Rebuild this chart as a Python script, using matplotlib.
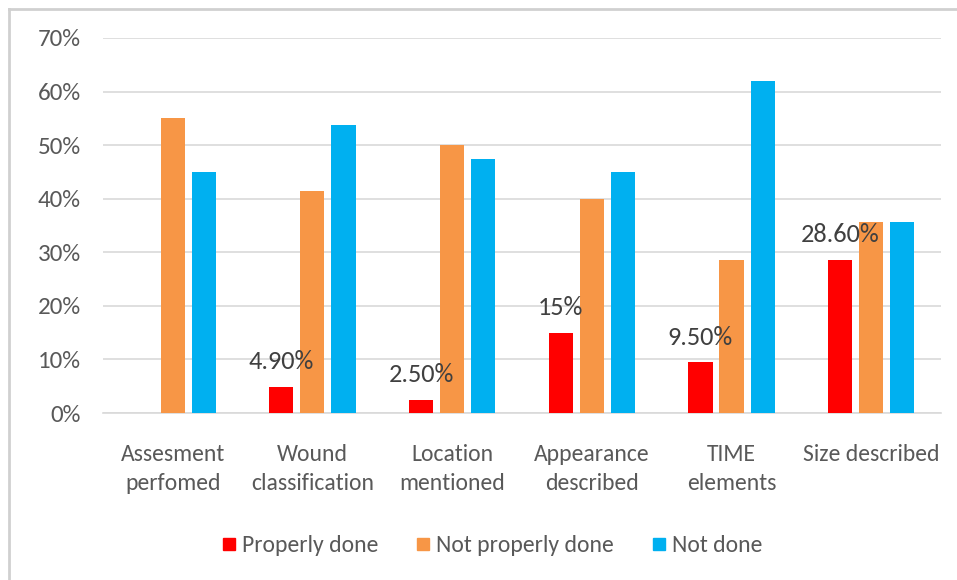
import numpy as np
import matplotlib
matplotlib.use('Agg')
import matplotlib.pyplot as plt
from matplotlib import font_manager
from matplotlib.lines import Line2D

categories = ['Assesment\nperfomed', 'Wound\nclassification', 'Location\nmentioned',
              'Appearance\ndescribed', 'TIME\nelements', 'Size described']
series_names = ['Properly done', 'Not properly done', 'Not done']
properly_done = [0.0, 4.9, 2.5, 15.0, 9.5, 28.6]
not_properly_done = [55.0, 41.4, 50.0, 40.0, 28.5, 35.7]
not_done = [45.0, 53.7, 47.5, 45.0, 61.9, 35.7]
label_texts = ['', '4.90%', '2.50%', '15%', '9.50%', '28.60%']
yticks = [0, 10, 20, 30, 40, 50, 60, 70]

colors = ['#FF0000', '#F79646', '#00B0F0']

# pick a narrow font close to Calibri
available = set(f.name for f in font_manager.fontManager.ttflist)
family = 'DejaVu Sans'
for name in ['Carlito', 'Liberation Sans Narrow', 'Liberation Sans']:
    if name in available:
        family = name
        break
plt.rcParams['font.family'] = [family, 'DejaVu Sans']

fig = plt.figure(figsize=(9.57, 5.80), dpi=100)
ax = fig.add_axes([0.1076, 0.2879, 0.8757, 0.6466])

x = np.arange(len(categories))
width = 0.172
offset = 0.222
all_series = [properly_done, not_properly_done, not_done]
bars = []
for i, vals in enumerate(all_series):
    b = ax.bar(x + (i - 1) * offset, vals, width, color=colors[i], label=series_names[i], zorder=3)
    bars.append(b)

# data labels on the red bars only
for rect, txt in zip(bars[0], label_texts):
    if txt:
        ax.annotate(txt, (rect.get_x() + rect.get_width() / 2, rect.get_height()),
                    xytext=(0, 18), textcoords='offset points', ha='center', va='center',
                    fontsize=19, color='#404040', zorder=4)

ax.set_xlim(-0.5, len(categories) - 0.5)
ax.set_ylim(0, 70)
ax.set_yticks(yticks)
ax.set_yticklabels(['%d%%' % v for v in yticks])
ax.set_xticks(x)
ax.set_xticklabels(categories, linespacing=1.5)
ax.tick_params(axis='y', length=0, pad=16, labelsize=18, labelcolor='#595959')
ax.tick_params(axis='x', length=0, pad=22, labelsize=17, labelcolor='#595959')
ax.grid(axis='y', color='#D9D9D9', linewidth=1.2, zorder=0)
for s in ['top', 'right', 'left']:
    ax.spines[s].set_visible(False)
ax.spines['bottom'].set_color('#D9D9D9')
ax.spines['bottom'].set_linewidth(1.2)

handles = [Line2D([0], [0], marker='s', linestyle='none', markersize=8,
                  markerfacecolor=c, markeredgecolor=c) for c in colors]
fig.legend(handles, series_names, loc='center', bbox_to_anchor=(491 / 957, 1 - 546 / 580),
           ncol=3, frameon=False, fontsize=17, labelcolor='#595959',
           handletextpad=0.15, columnspacing=1.5, handlelength=0.8)

# outer chart border
fig.add_artist(Line2D([9 / 957, 1.0], [1 - 9 / 580, 1 - 9 / 580], color='#D0D0D0', linewidth=2,
                      transform=fig.transFigure))
fig.add_artist(Line2D([9 / 957, 9 / 957], [0, 1 - 9 / 580], color='#D0D0D0', linewidth=2,
                      transform=fig.transFigure))

fig.savefig('out.png', dpi=100)
